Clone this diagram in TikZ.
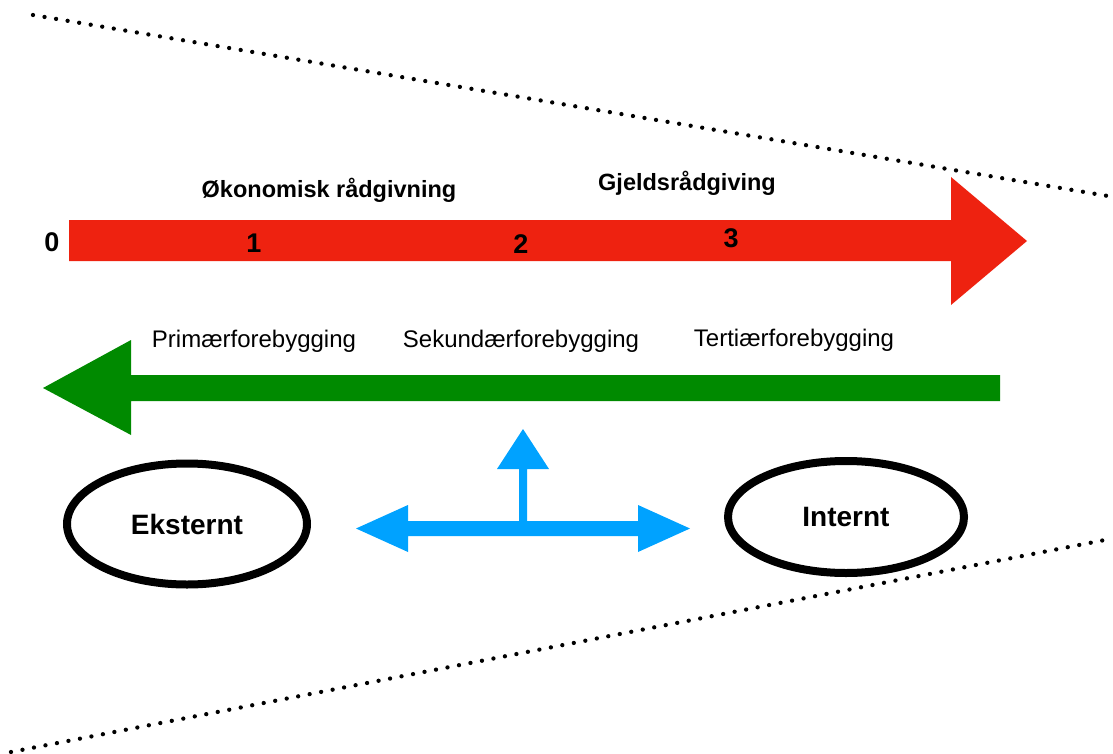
\documentclass[tikz,border=0pt]{standalone}
\usepackage{fontspec}
\setmainfont{Liberation Sans}
\usetikzlibrary{shapes.geometric}
\definecolor{arrowred}{RGB}{238,34,16}
\definecolor{arrowgreen}{RGB}{0,138,0}
\definecolor{arrowblue}{RGB}{0,162,255}
\tikzset{
  dotline/.style={line width=4.3pt, line cap=round, dash pattern=on 0pt off 11.7pt},
  steplabel/.style={font=\bfseries\fontsize{23.5}{26}\selectfont, inner sep=0pt},
  stepnum/.style={font=\bfseries\fontsize{27}{29}\selectfont, inner sep=0pt},
  levellabel/.style={font=\fontsize{24}{26}\selectfont, inner sep=0pt},
  actor/.style={ellipse, draw=black, line width=8pt, fill=white, inner sep=0pt,
    font=\bfseries\fontsize{28}{30}\selectfont},
}
\begin{document}
\begin{tikzpicture}[x=1pt,y=-1pt]
\useasboundingbox (0,0) rectangle (1113,754);

% funnel borders
\coordinate (ta) at (33,15);
\coordinate (tb) at (1108,196);
\coordinate (ba) at (11,752);
\coordinate (bb) at (1110,539);
\draw[dotline] (ta) -- (tb);
\draw[dotline] (ba) -- (bb);

% red arrow
\fill[arrowred] (69,220) -- (951,220) -- (951,177) -- (1027,241) -- (951,305)
  -- (951,261) -- (69,261) -- cycle;
\node[stepnum] (s0) at (52,242) {0};
\node[stepnum] (s1) at (254,243) {1};
\node[stepnum] (s2) at (521,244) {2};
\node[stepnum] (s3) at (731,238) {3};
\node[steplabel] (okon) at (329,190) {Økonomisk rådgivning};
\node[steplabel] (gjeld) at (687,183) {Gjeldsrådgiving};

% green arrow
\fill[arrowgreen] (1000,375) -- (131,375) -- (131,340) -- (43,388) -- (131,435)
  -- (131,401) -- (1000,401) -- cycle;
\node[levellabel] (prim) at (254,341) {Primærforebygging};
\node[levellabel] (sek) at (521,341) {Sekundærforebygging};
\node[levellabel] (ter) at (794,340) {Tertiærforebygging};

% external / internal
\node[actor, minimum width=240pt, minimum height=121pt] (ekst) at (187,524) {Eksternt};
\node[actor, minimum width=236pt, minimum height=112pt] (int) at (846,517) {Internt};

% blue double arrow with upward branch
\fill[arrowblue] (356,528.5) -- (408,505) -- (408,521) -- (519,521) -- (519,469)
  -- (497,469) -- (523,429) -- (549,469) -- (527,469) -- (527,521) -- (638,521)
  -- (638,505) -- (690,528.5) -- (638,552) -- (638,536) -- (408,536) -- (408,552) -- cycle;
\end{tikzpicture}
\end{document}
